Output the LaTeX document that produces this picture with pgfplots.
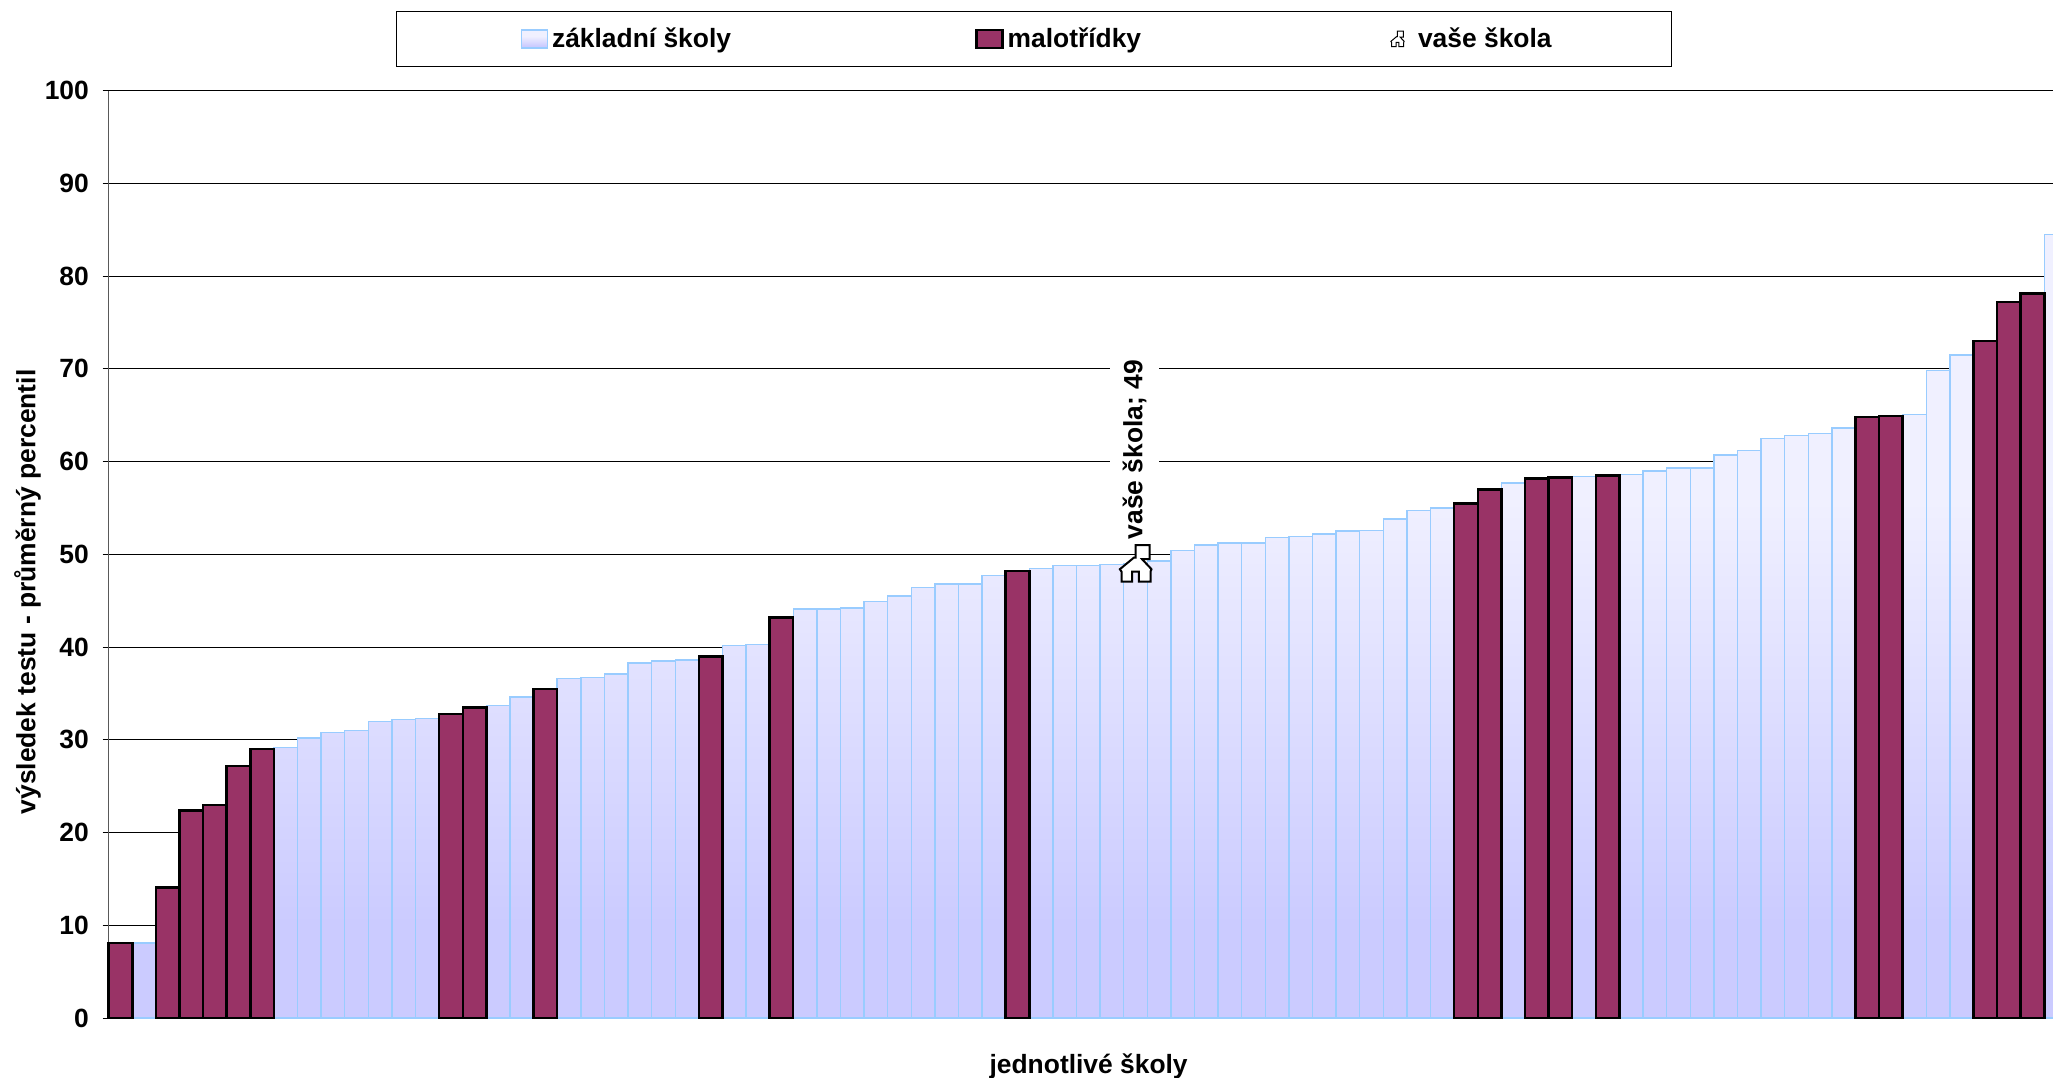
\documentclass[border=0pt]{standalone}
\usepackage{fontspec}
\setmainfont{Liberation Sans}
\usepackage{pgfplots}
\usepackage{pgfplotstable}
\pgfplotsset{compat=1.18}

\definecolor{maroon}{HTML}{993366}
\definecolor{barline}{HTML}{99CCFF}
\definecolor{fadetop}{HTML}{F0F0FF}
\definecolor{fadelow}{HTML}{CBCBFF}
\pgfdeclareverticalshading{barfade}{100bp}{color(0bp)=(fadelow); color(31bp)=(fadelow); color(58bp)=(fadetop); color(100bp)=(fadetop)}

% house outline, in pt around the data point
\newcommand{\housepath}{(-7,-9) -- (-7,-4) -- (-7.8,-2.8) -- (-0.8,3) -- (0,3) -- (0,9.3) -- (7,9.3) -- (7,2.2) -- (3.3,2.2) -- (8,-2.8) -- (7.5,-4) -- (7.5,-9) -- (1.7,-9) -- (1.7,-4) -- (-1.7,-4) -- (-1.7,-9) -- cycle}
\pgfdeclareplotmark{house}{\draw[x=1pt,y=1pt,fill=white,draw=black,line width=1pt,line join=miter] \housepath;}

\newcommand{\chartfont}{\fontsize{13.2}{15}\selectfont\bfseries}

% zakladni skoly
\pgfplotstableread{
x y
1 8.1
7 29.2
8 30.2
9 30.8
10 31.0
11 32.0
12 32.2
13 32.3
16 33.7
17 34.6
19 36.6
20 36.7
21 37.1
22 38.3
23 38.5
24 38.6
26 40.2
27 40.3
29 44.1
30 44.1
31 44.2
32 44.9
33 45.5
34 46.4
35 46.8
36 46.8
37 47.7
39 48.5
40 48.8
41 48.8
42 48.9
43 49.0
44 49.3
45 50.4
46 51.0
47 51.2
48 51.2
49 51.8
50 51.9
51 52.2
52 52.5
53 52.6
54 53.8
55 54.7
56 55.0
59 57.7
62 58.4
64 58.6
65 59.0
66 59.3
67 59.3
68 60.7
69 61.2
70 62.5
71 62.8
72 63.0
73 63.6
76 65.1
77 69.8
78 71.5
82 84.5
}\basic

% malotridky
\pgfplotstableread{
x y
0 8.1
2 14.1
3 22.4
4 23.0
5 27.2
6 29.0
14 32.8
15 33.5
18 35.5
25 39.0
28 43.2
38 48.2
57 55.5
58 57.0
60 58.2
61 58.3
63 58.5
74 64.8
75 64.9
79 73.0
80 77.2
81 78.1
}\small

\begin{document}
\begin{tikzpicture}
\useasboundingbox (-54.35pt,-29.5pt) rectangle (972pt,509pt);
\begin{axis}[
    scale only axis,
    width=972pt,
    height=463.75pt,
    xmin=-0.5, xmax=81.87,
    ymin=0, ymax=100,
    ytick distance=10,
    xtick=\empty,
    clip=false,
    axis lines*=left,
    axis line style={-, draw=black!65, line width=0.7pt},
    y tick style={black, line width=0.5pt},
    tick align=outside,
    major tick length=3pt,
    ymajorgrids,
    grid style={black, line width=0.5pt},
    /pgf/number format/assume math mode=true,
    tick label style={font=\chartfont},
    y tick label style={xshift=-3.4pt},
    label style={font=\chartfont},
    xlabel={jednotlivé školy},
    ylabel={výsledek testu - průměrný percentil},
    xlabel style={at={(axis description cs:0.504,-0.0518)}, anchor=center},
    ylabel style={at={(axis description cs:-0.0418,0.4595)}, anchor=center},
    legend columns=3,
    legend cell align=left,
    legend style={
        at={(axis description cs:0.476,1.0555)}, anchor=center,
        draw=black, line width=0.5pt,
        font=\chartfont,
        inner xsep=58pt, inner ysep=6pt,
        /tikz/column 2/.style={column sep=120pt},
        /tikz/column 4/.style={column sep=122.6pt},
    },
]
\addplot[ybar, bar width=1, bar shift=0pt, draw=barline, line width=0.7pt, shade, shading=barfade,
    legend image code/.code={\path[draw=none, fill=none] (-4.3pt,0pt) -- (0pt,0pt); \path[draw=barline, shade, shading=barfade] (0pt,-4.5pt) rectangle (13pt,4.5pt);}]
    table[x=x, y=y] {\basic};
\addlegendentry{základní školy}

\addplot[ybar, bar width=1, bar shift=0pt, draw=black, line width=1.25pt, fill=maroon,
    legend image code/.code={\path[draw=black, line width=1.25pt, fill=maroon] (0pt,-4.5pt) rectangle (13pt,4.5pt);}]
    table[x=x, y=y] {\small};
\addlegendentry{malotřídky}

\addplot[only marks, mark=house, mark size=8pt,
    nodes near coords={vaše škola; 49},
    every node near coord/.append style={font=\chartfont, fill=white, yshift=12pt, xshift=-0.5pt,
        rotate=90, anchor=west, inner xsep=0pt, inner ysep=6.5pt},
    legend image code/.code={\path[draw=none, fill=none] (-3pt,0pt) -- (8.3pt,0pt); \draw[x=1pt, y=1pt, scale=0.42, fill=white, draw=black, line width=0.5pt] \housepath;}]
    coordinates {(43,49)};
\addlegendentry{vaše škola}
\end{axis}
\end{tikzpicture}
\end{document}
